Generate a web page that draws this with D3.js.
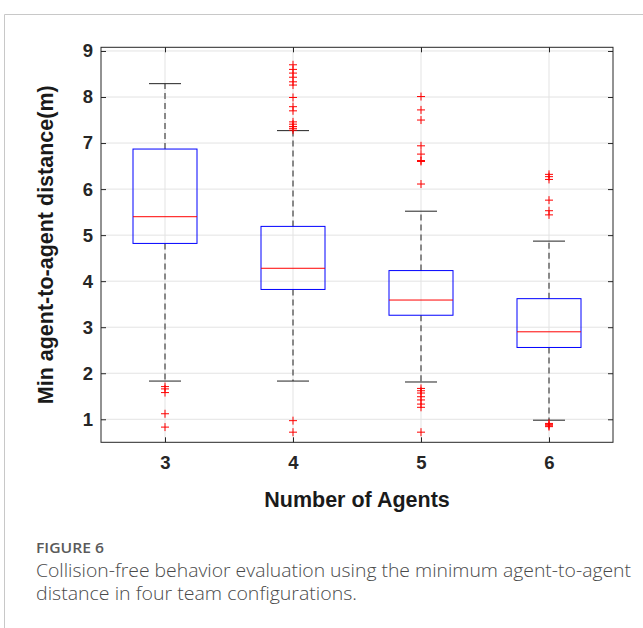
<!DOCTYPE html>
<html><head><meta charset="utf-8">
<script src="https://cdn.jsdelivr.net/npm/d3@7"></script>
<style>body{margin:0;background:#fff}svg{display:block}</style>
</head><body>
<svg id="chart" width="643" height="628"></svg>
<script>
const categories = ["3", "4", "5", "6"];
const q1 = [4.82, 3.82, 3.26, 2.56];
const medians = [5.40, 4.28, 3.59, 2.90];
const q3 = [6.87, 5.19, 4.23, 3.62];
const whiskerLow = [1.83, 1.83, 1.81, 0.98];
const whiskerHigh = [8.29, 7.27, 5.52, 4.87];
const outliers3 = [1.71, 1.66, 1.58, 1.12, 0.83];
const outliers4 = [8.70, 8.60, 8.52, 8.43, 8.33, 8.26, 7.99, 7.79, 7.70, 7.46, 7.41, 7.36, 7.32, 7.28, 0.97, 0.72];
const outliers5 = [8.01, 7.72, 7.50, 6.94, 6.76, 6.62, 6.60, 6.11, 1.67, 1.62, 1.57, 1.49, 1.42, 1.33, 1.26, 0.72];
const outliers6 = [6.32, 6.27, 6.21, 5.76, 5.53, 5.44, 0.91, 0.89, 0.86, 0.84];
const outliers = [outliers3, outliers4, outliers5, outliers6];
const yTicks = [1, 2, 3, 4, 5, 6, 7, 8, 9];
const xLabel = "Number of Agents";
const yLabel = "Min agent-to-agent distance(m)";
const figLabel = "FIGURE 6";
const captionLines = ["Collision-free behavior evaluation using the minimum agent-to-agent", "distance in four team configurations."];

const svg = d3.select("#chart");
const L = 101, R = 613, T = 47.3, B = 442.3;
const axisColor = "#262626";
const x = d3.scalePoint().domain(categories).range([L, R]).padding(0.5);
const step = x.step();
const y = d3.scaleLinear().domain([0.5, 9.08]).range([B, T]);

// outer frame
svg.append("path").attr("d", `M4.5,628 L4.5,14.5 L643,14.5`).attr("fill", "none").attr("stroke", "#c8c8c8").attr("stroke-width", 1);

const g = svg.append("g");
// grid
g.selectAll(".gy").data(yTicks).join("line")
  .attr("x1", L).attr("x2", R).attr("y1", d => y(d)).attr("y2", d => y(d))
  .attr("stroke", "#e3e3e3").attr("stroke-width", 1);
g.selectAll(".gx").data(categories).join("line")
  .attr("x1", d => x(d)).attr("x2", d => x(d)).attr("y1", T).attr("y2", B)
  .attr("stroke", "#e3e3e3").attr("stroke-width", 1);

// axes
const tl = 5;
const yAxisL = d3.axisLeft(y).tickValues(yTicks).tickSize(-tl).tickPadding(8).tickFormat(d3.format("d"));
const yAxisR = d3.axisRight(y).tickValues(yTicks).tickSize(-tl).tickFormat("");
const xAxisB = d3.axisBottom(x).tickSize(-tl).tickPadding(14);
const xAxisT = d3.axisTop(x).tickSize(-tl).tickFormat("");
function styleAxis(sel) {
  sel.select(".domain").remove();
  sel.selectAll("line").attr("stroke", axisColor);
  sel.selectAll("text").attr("fill", axisColor).attr("font-family", "Liberation Sans, Arial, sans-serif")
    .attr("font-weight", "bold").attr("font-size", 18.5);
}
svg.append("g").attr("transform", `translate(${L},0)`).call(yAxisL).call(styleAxis);
svg.append("g").attr("transform", `translate(${R},0)`).call(yAxisR).call(styleAxis);
svg.append("g").attr("transform", `translate(0,${B})`).call(xAxisB).call(styleAxis);
svg.append("g").attr("transform", `translate(0,${T})`).call(xAxisT).call(styleAxis);

// boxes
const bw = step * 0.5, cw = step * 0.25;
categories.forEach((c, i) => {
  const cx = x(c);
  const bg = svg.append("g");
  bg.append("line").attr("x1", cx).attr("x2", cx).attr("y1", y(q3[i])).attr("y2", y(whiskerHigh[i]))
    .attr("stroke", "#444").attr("stroke-width", 1.2).attr("stroke-dasharray", "6,4");
  bg.append("line").attr("x1", cx).attr("x2", cx).attr("y1", y(q1[i])).attr("y2", y(whiskerLow[i]))
    .attr("stroke", "#444").attr("stroke-width", 1.2).attr("stroke-dasharray", "6,4");
  [whiskerHigh[i], whiskerLow[i]].forEach(v => {
    bg.append("line").attr("x1", cx - cw / 2).attr("x2", cx + cw / 2).attr("y1", y(v)).attr("y2", y(v))
      .attr("stroke", "#222").attr("stroke-width", 1);
  });
  bg.append("rect").attr("x", cx - bw / 2).attr("width", bw).attr("y", y(q3[i])).attr("height", y(q1[i]) - y(q3[i]))
    .attr("fill", "none").attr("stroke", "#0000ff").attr("stroke-width", 1);
  bg.append("line").attr("x1", cx - bw / 2).attr("x2", cx + bw / 2).attr("y1", y(medians[i])).attr("y2", y(medians[i]))
    .attr("stroke", "#ff0000").attr("stroke-width", 1);
  bg.selectAll(".o").data(outliers[i]).join("path")
    .attr("d", d => `M${cx - 4},${y(d)}H${cx + 4}M${cx},${y(d) - 4}V${y(d) + 4}`)
    .attr("stroke", "#ff0000").attr("stroke-width", 1).attr("fill", "none");
});

// frame
svg.append("rect").attr("x", L).attr("y", T).attr("width", R - L).attr("height", B - T)
  .attr("fill", "none").attr("stroke", axisColor).attr("stroke-width", 1);

// labels
svg.append("text").attr("x", (L + R) / 2).attr("y", 507).attr("text-anchor", "middle")
  .attr("font-family", "Liberation Sans, Arial, sans-serif").attr("font-weight", "bold").attr("font-size", 21.5)
  .attr("fill", "#1a1a1a").text(xLabel);
svg.append("text").attr("transform", `translate(53,${(T + B) / 2}) rotate(-90)`).attr("text-anchor", "middle")
  .attr("font-family", "Liberation Sans, Arial, sans-serif").attr("font-weight", "bold").attr("font-size", 21.5)
  .attr("fill", "#1a1a1a").text(yLabel);

// caption
svg.append("text").attr("x", 36).attr("y", 553).attr("font-family", "Open Sans, sans-serif").attr("font-size", 14)
  .attr("font-weight", 600).attr("fill", "#5a5a5a").attr("textLength", 68).attr("lengthAdjust", "spacingAndGlyphs").text(figLabel);
const capWidths = [595, 321];
captionLines.forEach((t, i) => {
  svg.append("text").attr("x", 36).attr("y", 577 + i * 22.5).attr("font-family", "Open Sans, sans-serif")
    .attr("font-size", 18).attr("font-weight", 300).attr("fill", "#4a4a4a")
    .attr("textLength", capWidths[i]).attr("lengthAdjust", "spacingAndGlyphs").text(t);
});
</script>
</body></html>
